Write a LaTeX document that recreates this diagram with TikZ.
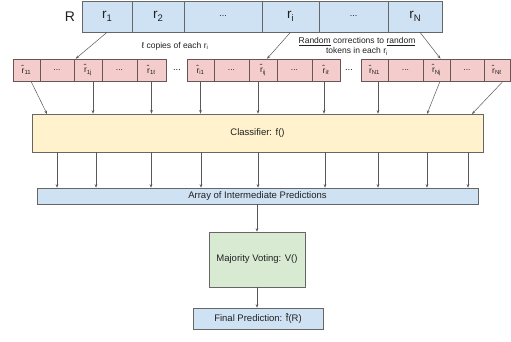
\documentclass[tikz,border=0pt]{standalone}
\usepackage{fontspec}
\setmainfont{Liberation Sans}
\usetikzlibrary{arrows.meta}
\definecolor{bfill}{HTML}{CFE2F3}
\definecolor{pfill}{HTML}{F4CCCC}
\definecolor{yfill}{HTML}{FFF2CC}
\definecolor{gfill}{HTML}{D9EAD3}
\definecolor{bord}{HTML}{666666}
\definecolor{pbord}{HTML}{6A5555}
\definecolor{lcol}{HTML}{595959}
\definecolor{tcol}{HTML}{202020}
\newcommand\rh{r\char"0302\relax}
\newcommand\fh{f\char"0302\relax}
\newcommand\sbs[1]{\textsubscript{#1}}
\newcommand\tsb[1]{\raisebox{-3.2pt}{\fontsize{9.5}{10}\selectfont #1}}
\begin{document}
\begin{tikzpicture}[x=1pt,y=-1pt,
  every node/.style={inner sep=0pt, text=tcol, font=\fontsize{9.5}{11}\selectfont},
  topcell/.style={draw=bord, fill=bfill, line width=0.6pt, minimum height=31pt, font=\fontsize{13.5}{15}\selectfont},
  pk/.style={draw=pbord, fill=pfill, line width=0.6pt, minimum height=22pt, font=\fontsize{8.5}{9}\selectfont},
  bigbox/.style={draw=bord, line width=0.6pt},
  arr/.style={draw=lcol, line width=0.5pt, -{Stealth[length=3.5pt,width=2.6pt]}}]
\useasboundingbox (0,0) rectangle (511,341);
% top array
\node[font=\fontsize{14}{15}\selectfont] (R) at (70,17) {R};
\node[topcell, minimum width=50pt] (r1) at (107,16.5) {r\tsb{1}};
\node[topcell, minimum width=52pt] (r2) at (158,16.5) {r\tsb{2}};
\node[topcell, minimum width=78pt, font=\fontsize{9}{10}\selectfont] (rd1) at (223,16.5) {...};
\node[topcell, minimum width=57pt] (ri) at (290.5,16.5) {r\tsb{i}};
\node[topcell, minimum width=69pt, font=\fontsize{9}{10}\selectfont] (rd2) at (353.5,16.5) {...};
\node[topcell, minimum width=54pt] (rN) at (415,16.5) {r\tsb{N}};
% labels
\node[font=\fontsize{8.5}{9.5}\selectfont] (lab1) at (175,46) {ℓ copies of each r\sbs{i}};
\node[font=\fontsize{8.5}{10}\selectfont, align=center] (lab2) at (357,46.5) {\underline{Random} corrections to \underline{random}\\tokens in each r\sbs{i}};
% pink groups
\node[pk, minimum width=27pt] (g1a) at (26.5,70) {\rh\sbs{11}};
\node[pk, minimum width=34pt] (g1b) at (57,70) {...};
\node[pk, minimum width=28pt] (g1c) at (88,70) {\rh\sbs{1j}};
\node[pk, minimum width=35pt] (g1d) at (119.5,70) {...};
\node[pk, minimum width=29pt] (g1e) at (151.5,70) {\rh\sbs{1ℓ}};
\node (dA) at (177,70) {...};
\node[pk, minimum width=27pt] (g2a) at (200.5,70) {\rh\sbs{i1}};
\node[pk, minimum width=35pt] (g2b) at (231.5,70) {...};
\node[pk, minimum width=28pt] (g2c) at (263,70) {\rh\sbs{ij}};
\node[pk, minimum width=35pt] (g2d) at (294.5,70) {...};
\node[pk, minimum width=28pt] (g2e) at (326,70) {\rh\sbs{iℓ}};
\node (dB) at (349,70) {...};
\node[pk, minimum width=27pt] (g3a) at (374.5,70) {\rh\sbs{N1}};
\node[pk, minimum width=35pt] (g3b) at (405.5,70) {...};
\node[pk, minimum width=27pt] (g3c) at (436.5,70) {\rh\sbs{Nj}};
\node[pk, minimum width=34pt] (g3d) at (467,70) {...};
\node[pk, minimum width=26pt] (g3e) at (497,70) {\rh\sbs{Nℓ}};
% big boxes
\node[bigbox, fill=yfill, minimum width=451pt, minimum height=38pt] (clf) at (257.5,133) {Classifier: f()};
\node[bigbox, fill=bfill, minimum width=441pt, minimum height=16pt] (arrp) at (257.5,196) {Array of Intermediate Predictions};
\node[bigbox, fill=gfill, minimum width=96pt, minimum height=55pt] (mv) at (257,259.5) {Majority Voting: V()};
\node[bigbox, fill=bfill, minimum width=130pt, minimum height=21pt] (fp) at (258,318.5) {Final Prediction: \fh(R)};
% top arrows
\draw[arr] (r1.south) -- ([xshift=2pt]g1c.north west);
\draw[arr] (ri.south) -- ([xshift=4pt]g2c.north);
\draw[arr] ([xshift=5pt]rN.south) -- ([xshift=4pt]g3c.north);
% into classifier
\coordinate (in1) at (47,114);
\coordinate (in8) at (427,114);
\coordinate (in9) at (472,114);
\draw[arr] ([xshift=4.5pt]g1a.south) -- (in1);
\draw[arr] ([xshift=5pt]g1c.south) -- ([xshift=5pt]g1c.south |- clf.north);
\draw[arr] (g1e.south) -- (g1e.south |- clf.north);
\draw[arr] (g2a.south) -- (g2a.south |- clf.north);
\draw[arr] ([xshift=-5pt]g2c.south) -- ([xshift=-5pt]g2c.south |- clf.north);
\draw[arr] ([xshift=-2pt]g2e.south) -- ([xshift=-2pt]g2e.south |- clf.north);
\draw[arr] ([xshift=3.5pt]g3a.south) -- ([xshift=3.5pt]g3a.south |- clf.north);
\draw[arr] ([xshift=3.5pt]g3c.south) -- (in8);
\draw[arr] ([xshift=6pt]g3e.south) -- (in9);
% classifier to array
\foreach \x [count=\k] in {57,96,151,201,258,325,378,427,468} {
  \coordinate (o\k) at (\x,0);
  \draw[arr] (o\k |- clf.south) -- (o\k |- arrp.north);
}
\draw[arr] (arrp.south -| mv.north) -- (mv.north);
\draw[arr] (mv.south) -- (mv.south |- fp.north);
\end{tikzpicture}
\end{document}
